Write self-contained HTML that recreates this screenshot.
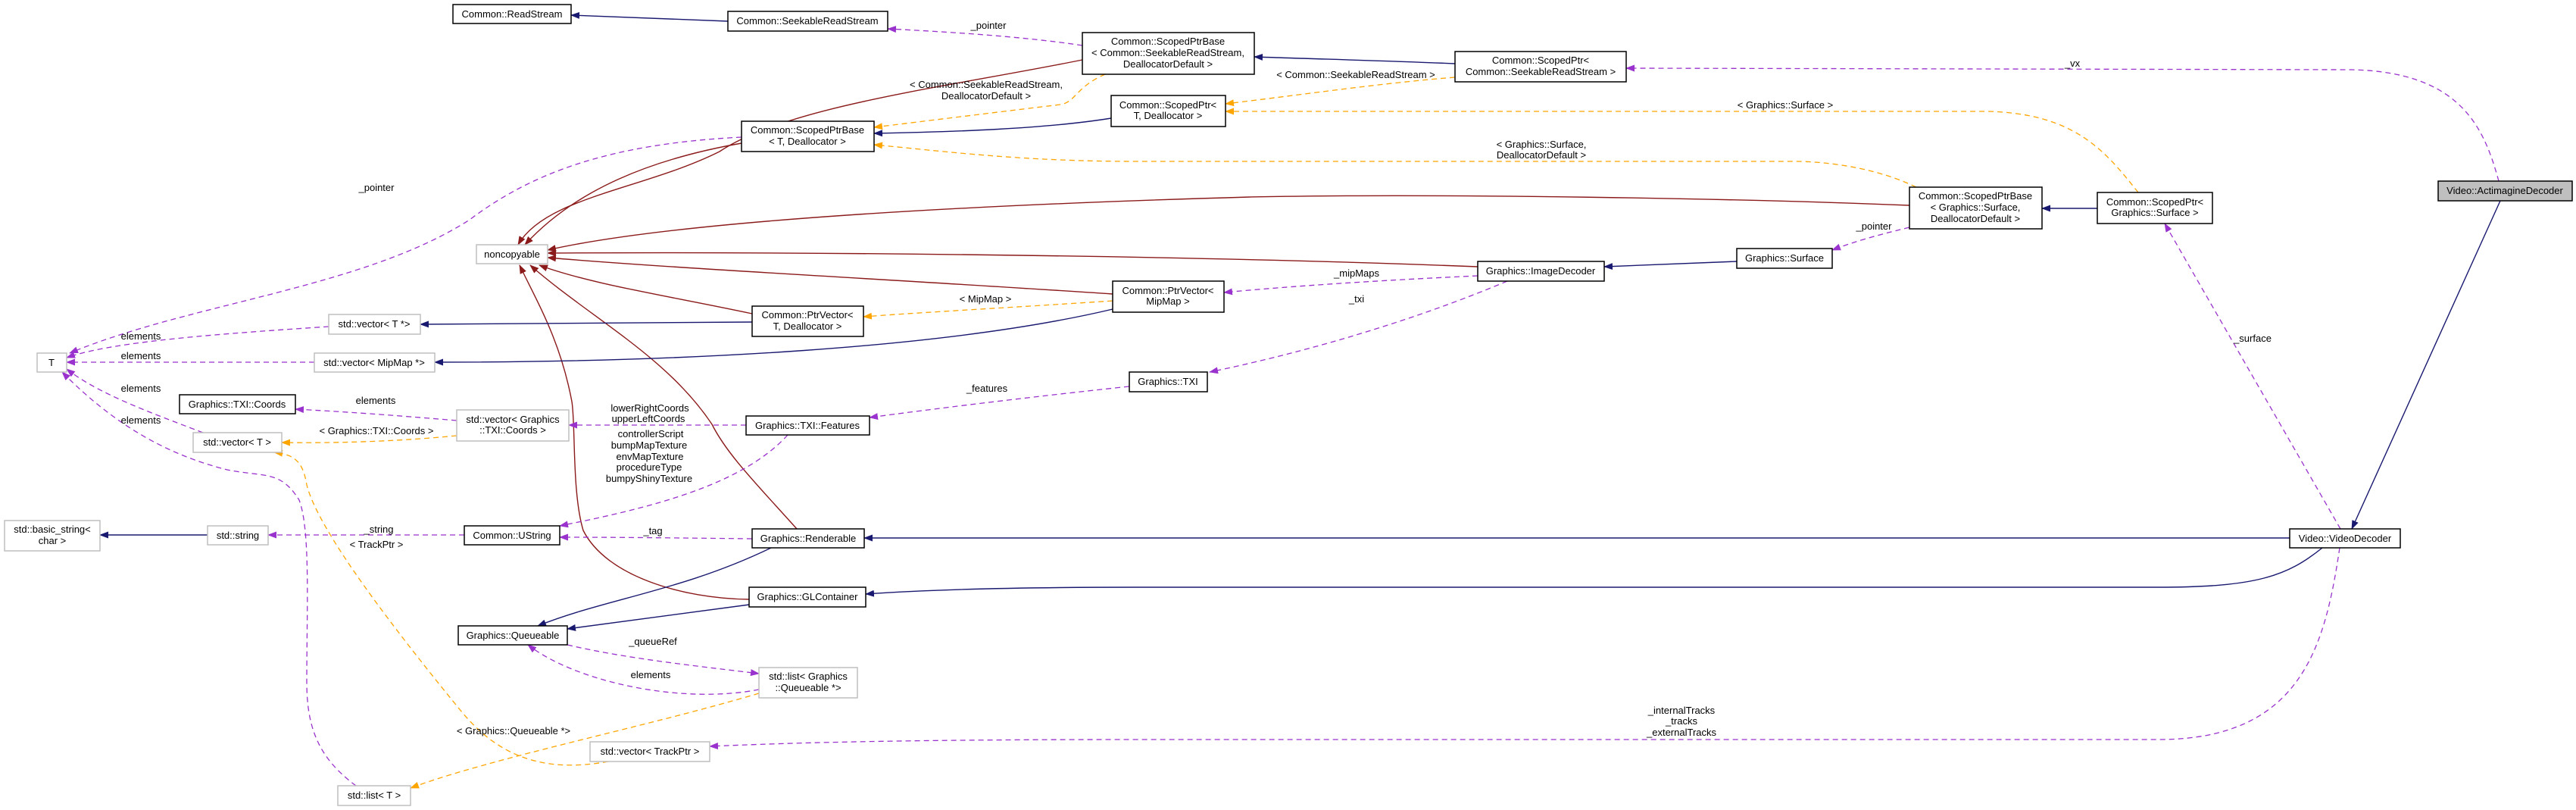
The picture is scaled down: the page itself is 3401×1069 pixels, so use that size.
<!DOCTYPE html>
<html><head><meta charset="utf-8"><style>
html,body{margin:0;padding:0;background:#fff;}
svg{display:block;}
text{font-family:"Liberation Sans",Arial,sans-serif;font-size:13px;fill:#000;}
.b{fill:#fff;stroke:#000;stroke-width:1.5;}
.g{fill:#fff;stroke:#bfbfbf;stroke-width:1.5;}
.n{fill:none;stroke:#191970;stroke-width:1.4;}
.r{fill:none;stroke:#8b1a1a;stroke-width:1.4;}
.p{fill:none;stroke:#9a32cd;stroke-width:1.3;stroke-dasharray:7,5;}
.o{fill:none;stroke:#ffa500;stroke-width:1.3;stroke-dasharray:7,5;}
</style></head><body>
<svg width="3401" height="1069" viewBox="0 0 3401 1069" xmlns="http://www.w3.org/2000/svg">
<defs>
<marker id="mn" markerWidth="12" markerHeight="9" refX="11" refY="4.5" orient="auto" markerUnits="userSpaceOnUse"><path d="M0,0 L12,4.5 L0,9 z" fill="#191970"/></marker>
<marker id="mr" markerWidth="12" markerHeight="9" refX="11" refY="4.5" orient="auto" markerUnits="userSpaceOnUse"><path d="M0,0 L12,4.5 L0,9 z" fill="#8b1a1a"/></marker>
<marker id="mp" markerWidth="12" markerHeight="9" refX="11" refY="4.5" orient="auto" markerUnits="userSpaceOnUse"><path d="M0,0 L12,4.5 L0,9 z" fill="#9a32cd"/></marker>
<marker id="mo" markerWidth="12" markerHeight="9" refX="11" refY="4.5" orient="auto" markerUnits="userSpaceOnUse"><path d="M0,0 L12,4.5 L0,9 z" fill="#ffa500"/></marker>
</defs>

<g>
<path class="n" marker-end="url(#mn)" d="M961,28 L754,20"/>
<path class="p" marker-end="url(#mp)" d="M1429,60 C1350,48 1250,42 1172,38"/>
<path class="n" marker-end="url(#mn)" d="M1921,84 C1830,80 1740,78 1656,75"/>
<path class="o" marker-end="url(#mo)" d="M1921,102 C1820,110 1720,125 1618,137"/>
<path class="o" marker-end="url(#mo)" d="M1459,98 C1420,115 1420,135 1400,138 C1300,150 1220,160 1154,168"/>
<path class="n" marker-end="url(#mn)" d="M1467,156 C1380,170 1260,174 1154,176"/>
<path class="o" marker-end="url(#mo)" d="M2530,247 C2470,218 2400,213 2370,213 L1500,213 C1350,213 1250,200 1154,191"/>
<path class="o" marker-end="url(#mo)" d="M2823,254 C2780,200 2740,150 2625,147 L1618,147"/>
<path class="p" marker-end="url(#mp)" d="M3299,239 C3280,170 3250,95 3105,92 L2147,90"/>
<path class="r" marker-end="url(#mr)" d="M1429,79 C1250,115 1040,140 950,200 C850,250 720,260 684,323"/>
<path class="r" marker-end="url(#mr)" d="M979,189 C860,210 760,250 693,323"/>
<path class="r" marker-end="url(#mr)" d="M2521,271 C2300,262 1900,255 1650,260 C1300,270 900,290 723,330"/>
<path class="r" marker-end="url(#mr)" d="M1951,352 C1600,338 1100,332 723,334"/>
<path class="r" marker-end="url(#mr)" d="M1469,388 C1200,370 900,355 723,340"/>
<path class="r" marker-end="url(#mr)" d="M993,414 C880,390 780,375 712,350"/>
<path class="r" marker-end="url(#mr)" d="M1052,698 C1000,640 960,600 940,560 C880,470 780,420 700,350"/>
<path class="r" marker-end="url(#mr)" d="M989,791 C900,790 800,760 770,700 C755,650 760,560 755,530 C740,450 710,400 686,350"/>
<path class="n" marker-end="url(#mn)" d="M993,425 L555,428"/>
<path class="n" marker-end="url(#mn)" d="M1469,408 C1250,460 900,478 574,478"/>
<path class="o" marker-end="url(#mo)" d="M1469,397 C1350,405 1220,412 1140,418"/>
<path class="p" marker-end="url(#mp)" d="M1951,364 C1820,370 1700,378 1616,386"/>
<path class="p" marker-end="url(#mp)" d="M1990,371 C1850,430 1700,470 1597,491"/>
<path class="n" marker-end="url(#mn)" d="M2293,345 L2118,352"/>
<path class="p" marker-end="url(#mp)" d="M2521,300 C2480,310 2450,318 2419,330"/>
<path class="n" marker-end="url(#mn)" d="M2769,275 L2696,275"/>
<path class="n" marker-end="url(#mn)" d="M3301,265 L3105,698"/>
<path class="p" marker-end="url(#mp)" d="M3090,698 L2858,295"/>
<path class="n" marker-end="url(#mn)" d="M3023,710 L1141,710"/>
<path class="n" marker-end="url(#mn)" d="M3066,723 C3020,760 2980,775 2850,775 L1500,775 C1300,775 1200,780 1143,784"/>
<path class="p" marker-end="url(#mp)" d="M3089,723 C3070,850 3040,976 2850,976 L1500,976 C1200,976 1050,980 937,985"/>
<path class="p" marker-end="url(#mp)" d="M1491,510 C1350,525 1230,540 1148,551"/>
<path class="p" marker-end="url(#mp)" d="M985,561 L751,561"/>
<path class="p" marker-end="url(#mp)" d="M1040,574 C980,640 860,670 739,694"/>
<path class="p" marker-end="url(#mp)" d="M993,711 C900,710 820,709 739,709"/>
<path class="p" marker-end="url(#mp)" d="M613,706 L354,706"/>
<path class="n" marker-end="url(#mn)" d="M274,706 L132,706"/>
<path class="n" marker-end="url(#mn)" d="M1018,723 C900,780 800,790 710,826"/>
<path class="n" marker-end="url(#mn)" d="M989,798 C900,810 820,820 749,830"/>
<path class="p" marker-end="url(#mp)" d="M749,851 C830,870 930,880 1002,889"/>
<path class="p" marker-end="url(#mp)" d="M1002,910 C900,930 760,900 697,851"/>
<path class="o" marker-end="url(#mo)" d="M1002,915 C850,960 650,1000 542,1040"/>
<path class="o" marker-end="url(#mo)" d="M803,1005 C720,1020 660,1000 610,940 C520,830 420,700 405,640 C400,610 390,600 362,597"/>
<path class="o" marker-end="url(#mo)" d="M603,575 C520,583 440,585 372,584"/>
<path class="p" marker-end="url(#mp)" d="M603,555 C520,548 450,543 390,540"/>
<path class="p" marker-end="url(#mp)" d="M268,571 C200,545 130,520 88,487"/>
<path class="p" marker-end="url(#mp)" d="M470,1037 C420,1000 405,960 405,900 C405,800 410,700 395,660 C370,620 350,630 300,620 C220,600 150,560 82,491"/>
<path class="p" marker-end="url(#mp)" d="M415,478 L88,478"/>
<path class="p" marker-end="url(#mp)" d="M434,431 C300,440 150,450 88,472"/>
<path class="p" marker-end="url(#mp)" d="M979,181 C800,190 700,230 620,290 C480,380 250,400 92,466"/>
</g>

<g text-anchor="middle">
<text x="1305" y="38">_pointer</text>
<text x="1302" y="116">&lt; Common::SeekableReadStream,</text>
<text x="1302" y="131">DeallocatorDefault &gt;</text>
<text x="1790" y="103">&lt; Common::SeekableReadStream &gt;</text>
<text x="2035" y="195">&lt; Graphics::Surface,</text>
<text x="2035" y="209">DeallocatorDefault &gt;</text>
<text x="2357" y="143">&lt; Graphics::Surface &gt;</text>
<text x="2736" y="88">_vx</text>
<text x="2474" y="303">_pointer</text>
<text x="2974" y="451">_surface</text>
<text x="1791" y="365">_mipMaps</text>
<text x="1301" y="399">&lt; MipMap &gt;</text>
<text x="1791" y="399">_txi</text>
<text x="1303" y="517">_features</text>
<text x="497" y="252">_pointer</text>
<text x="186" y="448">elements</text>
<text x="186" y="474">elements</text>
<text x="186" y="517">elements</text>
<text x="186" y="559">elements</text>
<text x="496" y="533">elements</text>
<text x="497" y="573">&lt; Graphics::TXI::Coords &gt;</text>
<text x="858" y="543">lowerRightCoords</text>
<text x="856" y="557">upperLeftCoords</text>
<text x="859" y="577">controllerScript</text>
<text x="857" y="592">bumpMapTexture</text>
<text x="858" y="607">envMapTexture</text>
<text x="857" y="621">procedureType</text>
<text x="857" y="636">bumpyShinyTexture</text>
<text x="500" y="703">_string</text>
<text x="497" y="723">&lt; TrackPtr &gt;</text>
<text x="862" y="705">_tag</text>
<text x="862" y="851">_queueRef</text>
<text x="859" y="895">elements</text>
<text x="678" y="969">&lt; Graphics::Queueable *&gt;</text>
<text x="2220" y="942">_internalTracks</text>
<text x="2220" y="956">_tracks</text>
<text x="2220" y="971">_externalTracks</text>
</g>

<g text-anchor="middle">
<g><rect class="b" x="598" y="6" width="156" height="25"/><text x="676" y="23">Common::ReadStream</text></g>
<g><rect class="b" x="961" y="15" width="211" height="26"/><text x="1066" y="32">Common::SeekableReadStream</text></g>
<g><rect class="b" x="1429" y="43" width="227" height="55"/><text x="1542" y="59">Common::ScopedPtrBase</text><text x="1542" y="74">&lt; Common::SeekableReadStream,</text><text x="1542" y="89">DeallocatorDefault &gt;</text></g>
<g><rect class="b" x="1921" y="68" width="226" height="40"/><text x="2034" y="84">Common::ScopedPtr&lt;</text><text x="2034" y="99">Common::SeekableReadStream &gt;</text></g>
<g><rect class="b" x="1467" y="126" width="151" height="41"/><text x="1542" y="143">Common::ScopedPtr&lt;</text><text x="1542" y="157">T, Deallocator &gt;</text></g>
<g><rect class="b" x="979" y="160" width="175" height="40"/><text x="1066" y="176">Common::ScopedPtrBase</text><text x="1066" y="191">&lt; T, Deallocator &gt;</text></g>
<g><rect class="g" x="629" y="323" width="94" height="25"/><text x="676" y="340">noncopyable</text></g>
<g><rect class="g" x="434" y="415" width="121" height="26"/><text x="494" y="432">std::vector&lt; T *&gt;</text></g>
<g><rect class="g" x="49" y="466" width="39" height="25"/><text x="68" y="483">T</text></g>
<g><rect class="g" x="415" y="466" width="159" height="25"/><text x="494" y="483">std::vector&lt; MipMap *&gt;</text></g>
<g><rect class="b" x="993" y="404" width="147" height="40"/><text x="1066" y="420">Common::PtrVector&lt;</text><text x="1066" y="435">T, Deallocator &gt;</text></g>
<g><rect class="b" x="1951" y="345" width="167" height="26"/><text x="2034" y="362">Graphics::ImageDecoder</text></g>
<g><rect class="b" x="1469" y="371" width="147" height="41"/><text x="1542" y="388">Common::PtrVector&lt;</text><text x="1542" y="402">MipMap &gt;</text></g>
<g><rect class="b" x="1491" y="491" width="103" height="26"/><text x="1542" y="508">Graphics::TXI</text></g>
<g><rect class="b" x="237" y="521" width="153" height="25"/><text x="313" y="538">Graphics::TXI::Coords</text></g>
<g><rect class="g" x="603" y="541" width="148" height="41"/><text x="677" y="558">std::vector&lt; Graphics</text><text x="677" y="572">::TXI::Coords &gt;</text></g>
<g><rect class="g" x="255" y="571" width="117" height="26"/><text x="313" y="588">std::vector&lt; T &gt;</text></g>
<g><rect class="b" x="985" y="549" width="163" height="25"/><text x="1066" y="566">Graphics::TXI::Features</text></g>
<g><rect class="g" x="6" y="687" width="126" height="40"/><text x="69" y="703">std::basic_string&lt;</text><text x="69" y="718">char &gt;</text></g>
<g><rect class="g" x="274" y="694" width="80" height="25"/><text x="314" y="711">std::string</text></g>
<g><rect class="b" x="613" y="694" width="126" height="25"/><text x="676" y="711">Common::UString</text></g>
<g><rect class="b" x="993" y="698" width="148" height="25"/><text x="1067" y="715">Graphics::Renderable</text></g>
<g><rect class="b" x="989" y="775" width="154" height="26"/><text x="1066" y="792">Graphics::GLContainer</text></g>
<g><rect class="b" x="605" y="826" width="144" height="25"/><text x="677" y="843">Graphics::Queueable</text></g>
<g><rect class="g" x="1002" y="881" width="130" height="40"/><text x="1067" y="897">std::list&lt; Graphics</text><text x="1067" y="912">::Queueable *&gt;</text></g>
<g><rect class="g" x="779" y="979" width="158" height="26"/><text x="858" y="996">std::vector&lt; TrackPtr &gt;</text></g>
<g><rect class="g" x="446" y="1037" width="96" height="26"/><text x="494" y="1054">std::list&lt; T &gt;</text></g>
<g><rect x="3219" y="239" width="177" height="26" fill="#bfbfbf" stroke="#000" stroke-width="1.5"/><text x="3307" y="256">Video::ActimagineDecoder</text></g>
<g><rect class="b" x="2521" y="247" width="175" height="55"/><text x="2608" y="263">Common::ScopedPtrBase</text><text x="2608" y="278">&lt; Graphics::Surface,</text><text x="2608" y="293">DeallocatorDefault &gt;</text></g>
<g><rect class="b" x="2769" y="254" width="152" height="41"/><text x="2845" y="271">Common::ScopedPtr&lt;</text><text x="2845" y="285">Graphics::Surface &gt;</text></g>
<g><rect class="b" x="2293" y="328" width="126" height="26"/><text x="2356" y="345">Graphics::Surface</text></g>
<g><rect class="b" x="3023" y="698" width="146" height="25"/><text x="3096" y="715">Video::VideoDecoder</text></g>
</g>
</svg>
</body></html>
